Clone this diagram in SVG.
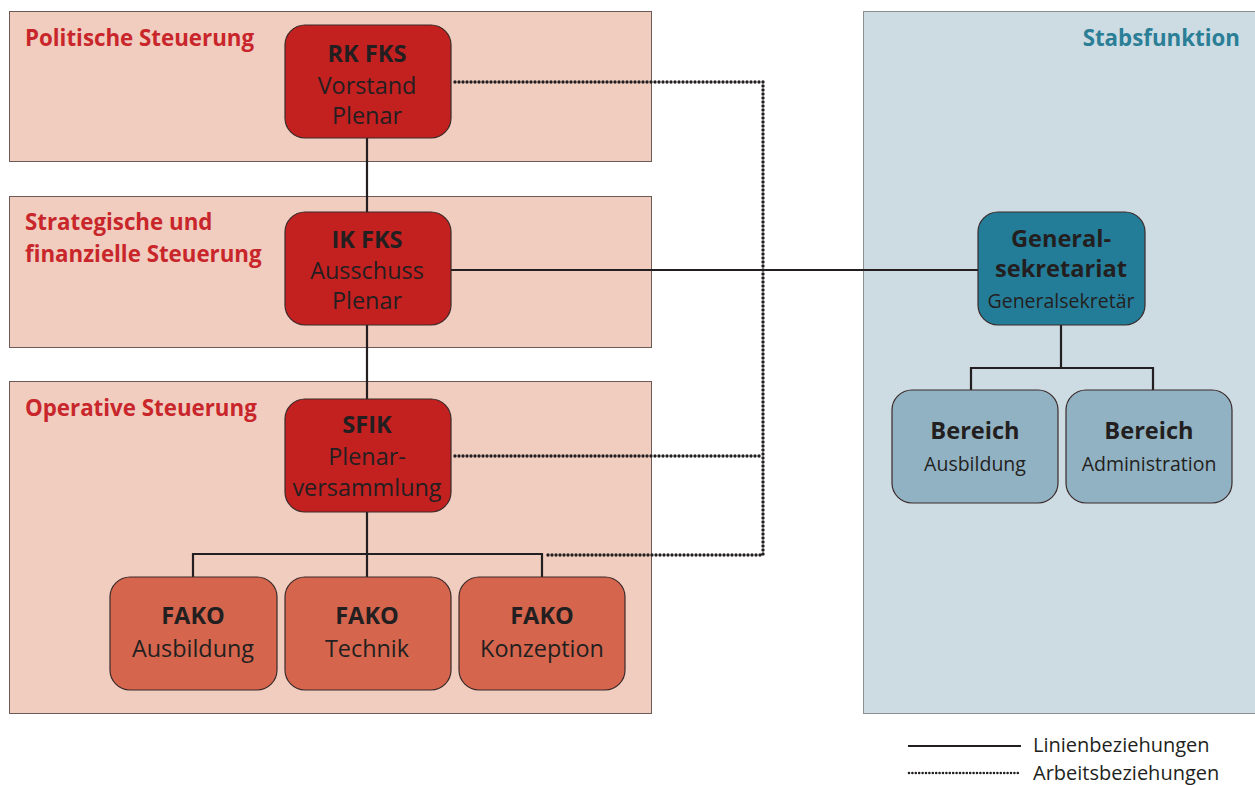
<svg xmlns="http://www.w3.org/2000/svg" width="1255" height="785" viewBox="0 0 1255 785">
<style>
text{font-family:"Open Sans","Noto Sans","Liberation Sans",sans-serif;fill:#231f20;}
.band{fill:#f1cdbf;stroke:#6b5a55;stroke-width:1;}
.stab{fill:#cddbe3;stroke:#8a8f92;stroke-width:1;}
.box{stroke:#3a2a2a;stroke-width:1.2;}
.red{fill:#c32020;}
.fako{fill:#d5664d;}
.gen{fill:#247d98;}
.ber{fill:#91b2c3;}
.ttl{font-weight:bold;font-size:22.3px;fill:#c8262b;}
.b{font-weight:bold;font-size:23.6px;text-anchor:middle;}
.r{font-size:23.4px;text-anchor:middle;}
.s{font-size:19.5px;text-anchor:middle;}
.lg{font-size:20px;}
.solid{stroke:#231f20;stroke-width:2.2;fill:none;}
.dot{stroke:#231f20;stroke-width:3.4;fill:none;stroke-dasharray:0 4;stroke-linecap:round;}
</style>
<g id="bands">
<rect class="band" x="9.5" y="11.5" width="642" height="150"/>
<rect class="band" x="9.5" y="196.5" width="642" height="151"/>
<rect class="band" x="9.5" y="381.5" width="642" height="332"/>
<rect class="stab" x="863.5" y="11.5" width="395" height="702"/>
<text class="ttl" x="25" y="46">Politische Steuerung</text>
<text class="ttl" x="25" y="230">Strategische und</text>
<text class="ttl" x="25" y="262">finanzielle Steuerung</text>
<text class="ttl" x="25" y="416">Operative Steuerung</text>
<text class="ttl" x="1240" y="46" style="fill:#2a7f97" text-anchor="end">Stabsfunktion</text>
</g>
<g id="connectors">
<path class="solid" d="M367 138V212M367 325V399M367 512V577M193 577V554H542V577M451 270H978M1061 325V368M971 390V368H1153V390"/>
<path class="dot" d="M455 82H763V555H546M455 456H763"/>
</g>
<g id="rk"><rect class="box red" x="285" y="25" width="166" height="113" rx="20"/>
<text class="b" x="367" y="62">RK FKS</text><text class="r" x="367" y="94">Vorstand</text><text class="r" x="367" y="124">Plenar</text></g>
<g id="ik"><rect class="box red" x="285" y="212" width="166" height="113" rx="20"/>
<text class="b" x="367" y="248">IK FKS</text><text class="r" x="367" y="279">Ausschuss</text><text class="r" x="367" y="309">Plenar</text></g>
<g id="sfik"><rect class="box red" x="285" y="399" width="166" height="113" rx="20"/>
<text class="b" x="367" y="433">SFIK</text><text class="r" x="367" y="465">Plenar-</text><text class="r" x="367" y="496">versammlung</text></g>
<g id="fako1"><rect class="box fako" x="110" y="577" width="167" height="113" rx="20"/>
<text class="b" x="193" y="624">FAKO</text><text class="r" x="193" y="657">Ausbildung</text></g>
<g id="fako2"><rect class="box fako" x="285" y="577" width="166" height="113" rx="20"/>
<text class="b" x="367" y="624">FAKO</text><text class="r" x="367" y="657">Technik</text></g>
<g id="fako3"><rect class="box fako" x="459" y="577" width="166" height="113" rx="20"/>
<text class="b" x="542" y="624">FAKO</text><text class="r" x="542" y="657">Konzeption</text></g>
<g id="gs"><rect class="box gen" x="978" y="212" width="167" height="113" rx="20"/>
<text class="b" x="1061" y="247">General-</text><text class="b" x="1061" y="277">sekretariat</text><text class="s" x="1061" y="308">Generalsekretär</text></g>
<g id="ber1"><rect class="box ber" x="892" y="390" width="166" height="113" rx="20"/>
<text class="b" x="975" y="439">Bereich</text><text class="s" x="975" y="471">Ausbildung</text></g>
<g id="ber2"><rect class="box ber" x="1066" y="390" width="166" height="113" rx="20"/>
<text class="b" x="1149" y="439">Bereich</text><text class="s" x="1149" y="471">Administration</text></g>
<g id="legend">
<line class="solid" x1="908" y1="746" x2="1021" y2="746"/>
<line class="dot" x1="909" y1="773" x2="1021" y2="773" style="stroke-width:2.6;stroke-dasharray:0 3.4"/>
<text class="lg" x="1033" y="752">Linienbeziehungen</text>
<text class="lg" x="1033" y="780">Arbeitsbeziehungen</text>
</g>
</svg>
